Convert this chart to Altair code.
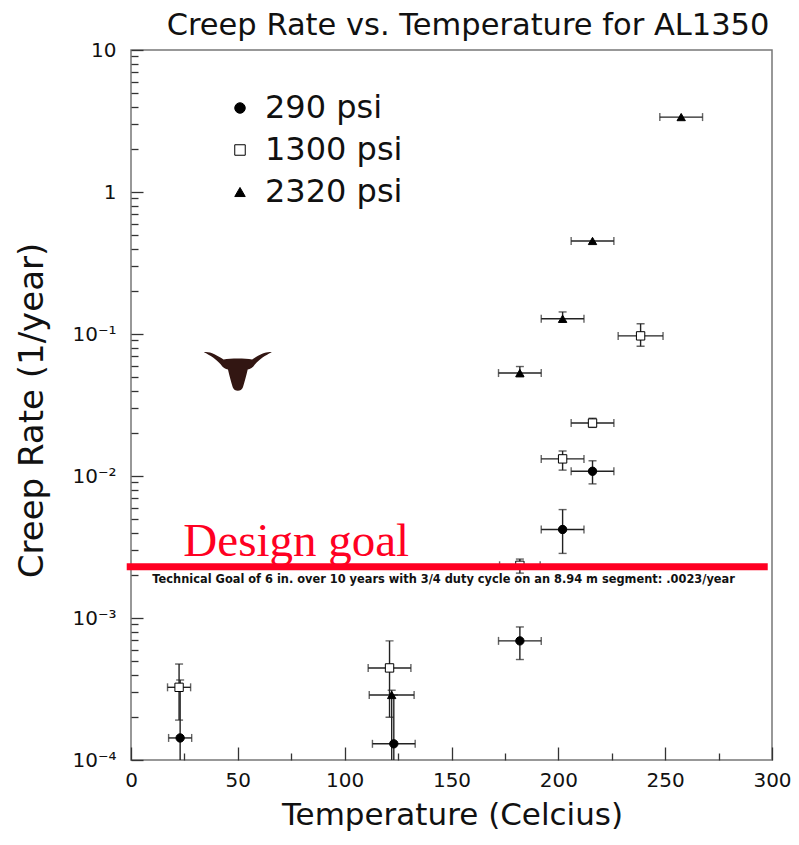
import altair as alt
import pandas as pd
import numpy as np

# ---------------- data ----------------
series_names = ["290 psi", "1300 psi", "2320 psi"]

t290 = [23, 123, 182, 202, 216]
r290 = [1.43e-4, 1.30e-4, 6.9e-4, 4.2e-3, 1.08e-2]
dt290 = [5.4, 10, 10, 10, 10]
lo290 = [6e-5, 6e-5, 5.1e-4, 2.85e-3, 8.8e-3]
hi290 = [3.66e-4, 2.87e-4, 8.65e-4, 5.8e-3, 1.28e-2]

t1300 = [22.5, 121, 182, 202, 216, 238.5]
r1300 = [3.25e-4, 4.45e-4, 2.35e-3, 1.32e-2, 2.36e-2, 0.097]
dt1300 = [5.4, 10, 9.5, 10, 10, 10.5]
lo1300 = [1.91e-4, 2.0e-4, 2.07e-3, 1.1e-2, 2.2e-2, 0.082]
hi1300 = [4.74e-4, 6.9e-4, 2.6e-3, 1.5e-2, 2.55e-2, 0.118]

t2320 = [122, 182, 202, 216, 257.5]
r2320 = [2.87e-4, 0.0531, 0.128, 0.452, 3.37]
dt2320 = [10.5, 10, 10, 10, 10]
lo2320 = [6e-5, 0.05, 0.121, np.nan, np.nan]
hi2320 = [3.1e-4, 0.059, 0.143, np.nan, np.nan]

title_text = "Creep Rate vs. Temperature for AL1350"
goal_rate = 0.0023
goal_x = [-2, 298]
goal_label = "Design goal"
goal_label_pos = (24.5, 2.73e-3)
tech_text = ("Technical Goal of 6 in. over 10 years with 3/4 duty cycle "
             "on an 8.94 m segment: .0023/year")
tech_pos = (10, 1.85e-3)
logo_pos = (50, 0.054)

x_major = [0, 50, 100, 150, 200, 250, 300]
x_minor = [25, 75, 125, 175, 225, 275]
y_major = [1e-4, 1e-3, 1e-2, 1e-1, 1, 10]
y_minor = [m * 10.0 ** e for e in range(-4, 1) for m in range(2, 10)]

# ---------------- tables ----------------
rows = []
for name, T, R, D, L, H in [
    (series_names[0], t290, r290, dt290, lo290, hi290),
    (series_names[1], t1300, r1300, dt1300, lo1300, hi1300),
    (series_names[2], t2320, r2320, dt2320, lo2320, hi2320),
]:
    for t, r, d, l, h in zip(T, R, D, L, H):
        rows.append(dict(series=name, temp=t, rate=r, xlo=t - d, xhi=t + d,
                         ylo=l, yhi=h))
df = pd.DataFrame(rows)
dfy = df.dropna(subset=["ylo"])

xcaps = pd.concat([df[["temp", "rate"]].assign(xc=df["xlo"]),
                   df[["temp", "rate"]].assign(xc=df["xhi"])])
ycaps = pd.concat([dfy[["temp"]].assign(yc=dfy["ylo"]),
                   dfy[["temp"]].assign(yc=dfy["yhi"])])

goal_df = pd.DataFrame({"x0": [goal_x[0]], "x1": [goal_x[1]], "rate": [goal_rate]})
gl_df = pd.DataFrame({"x": [goal_label_pos[0]], "y": [goal_label_pos[1]], "t": [goal_label]})
tech_df = pd.DataFrame({"x": [tech_pos[0]], "y": [tech_pos[1]], "t": [tech_text]})
logo_df = pd.DataFrame({"x": [logo_pos[0]], "y": [logo_pos[1]]})
title_df = pd.DataFrame({"t": [title_text]})

FONT = "DejaVu Sans"
xs = alt.Scale(domain=[0, 300], nice=False, zero=False)
ys = alt.Scale(type="log", domain=[1e-4, 10], nice=False)

label_expr = ("datum.value >= 10 ? '10\u2007' : datum.value >= 1 ? '1\u2007' : "
              "round(log(datum.value)/LN10) == -1 ? '10\u207b\u00b9' : "
              "round(log(datum.value)/LN10) == -2 ? '10\u207b\u00b2' : "
              "round(log(datum.value)/LN10) == -3 ? '10\u207b\u00b3' : '10\u207b\u2074'")

x_axis_major = alt.Axis(orient="bottom", values=x_major, offset=-13, tickSize=13,
                        domain=False, grid=False, tickColor="#333", tickWidth=1.3,
                        labelFont=FONT, labelFontSize=20, labelColor="#111",
                        labelPadding=10, labelFlush=False, format="d",
                        title="Temperature (Celcius)", titleFont=FONT,
                        titleFontSize=31, titleFontWeight="normal", titleColor="#111",
                        titleX=321, titleY=68, titleBaseline="middle",
                        titleAlign="center")
x_axis_minor = alt.Axis(orient="bottom", values=x_minor, offset=-7, tickSize=7,
                        domain=False, grid=False, labels=False, title=None,
                        tickColor="#333", tickWidth=1.3)
y_axis_major = alt.Axis(orient="left", values=y_major, offset=-12, tickSize=12,
                        domain=False, grid=False, tickColor="#333", tickWidth=1.3,
                        labelFont=FONT, labelFontSize=20, labelColor="#111",
                        labelPadding=15, labelFlush=False, labelExpr=label_expr,
                        title="Creep Rate (1/year)", titleFont=FONT,
                        titleFontSize=34, titleFontWeight="normal", titleColor="#111",
                        titleAngle=270, titleX=-111, titleY=360,
                        titleBaseline="middle", titleAlign="center")
y_axis_minor = alt.Axis(orient="left", values=y_minor, offset=-7, tickSize=7,
                        domain=False, grid=False, labels=False, title=None,
                        tickColor="#333", tickWidth=1.3)

ERR = "#222"

xerr = alt.Chart(df).mark_rule(color=ERR, strokeWidth=1.4).encode(
    x=alt.X("xlo:Q", scale=xs, axis=x_axis_minor),
    x2="xhi:Q",
    y=alt.Y("rate:Q", scale=ys, axis=y_axis_minor),
)
yerr = alt.Chart(dfy).mark_rule(color=ERR, strokeWidth=1.4, clip=True).encode(
    x=alt.X("temp:Q", scale=xs, axis=None),
    y=alt.Y("ylo:Q", scale=ys, axis=None),
    y2="yhi:Q",
)
xcap = alt.Chart(xcaps).mark_tick(color=ERR, thickness=1.4, size=8,
                                  orient="vertical").encode(
    x=alt.X("xc:Q", scale=xs, axis=None),
    y=alt.Y("rate:Q", scale=ys, axis=None),
)
ycap = alt.Chart(ycaps).mark_tick(color=ERR, thickness=1.4, size=8,
                                  orient="horizontal", clip=True).encode(
    x=alt.X("temp:Q", scale=xs, axis=None),
    y=alt.Y("yc:Q", scale=ys, axis=None),
)

legend = alt.Legend(orient="none", legendX=93, legendY=42, title=None,
                    labelFont=FONT, labelFontSize=32, labelColor="#111",
                    symbolSize=110, rowPadding=10, labelOffset=9, padding=0,
                    symbolStrokeWidth=1)
points = alt.Chart(df).mark_point(filled=True, strokeWidth=1,
                                  opacity=1, size=70).encode(
    x=alt.X("temp:Q", scale=xs, axis=x_axis_major),
    y=alt.Y("rate:Q", scale=ys, axis=y_axis_major),
    shape=alt.Shape("series:N", scale=alt.Scale(domain=series_names,
                    range=["circle", "square", "triangle-up"]), legend=legend),
    fill=alt.Fill("series:N", scale=alt.Scale(domain=series_names,
                  range=["black", "white", "black"]), legend=legend),
    stroke=alt.Stroke("series:N", scale=alt.Scale(domain=series_names,
                      range=["black", "black", "black"]), legend=legend),
)

goal = alt.Chart(goal_df).mark_rule(color="#ff0022", strokeWidth=7).encode(
    x=alt.X("x0:Q", scale=xs, axis=None),
    x2="x1:Q",
    y=alt.Y("rate:Q", scale=ys, axis=None),
)
goal_text = alt.Chart(gl_df).mark_text(font="Liberation Serif", fontSize=47,
                                       color="#ff0022", align="left",
                                       baseline="alphabetic").encode(
    x=alt.X("x:Q", scale=xs, axis=None),
    y=alt.Y("y:Q", scale=ys, axis=None),
    text="t:N",
)
tech = alt.Chart(tech_df).mark_text(font=FONT, fontSize=11.4, fontWeight="bold",
                                    color="#111", align="left",
                                    baseline="middle").encode(
    x=alt.X("x:Q", scale=xs, axis=None),
    y=alt.Y("y:Q", scale=ys, axis=None),
    text="t:N",
)
title = alt.Chart(title_df).mark_text(font=FONT, fontSize=30.5, color="#111",
                                      align="center", baseline="alphabetic").encode(
    x=alt.value(337), y=alt.value(-15), text="t:N",
)

LONGHORN = ("M -1 -0.58 C -0.85 -0.62 -0.62 -0.5 -0.42 -0.37 "
            "C -0.2 -0.41 0.2 -0.41 0.42 -0.37 "
            "C 0.62 -0.5 0.85 -0.62 1 -0.58 "
            "C 0.82 -0.5 0.62 -0.36 0.5 -0.22 "
            "C 0.45 -0.13 0.36 -0.09 0.29 -0.07 "
            "C 0.25 0.1 0.2 0.3 0.15 0.45 "
            "C 0.1 0.59 -0.1 0.59 -0.15 0.45 "
            "C -0.2 0.3 -0.25 0.1 -0.29 -0.07 "
            "C -0.36 -0.09 -0.45 -0.13 -0.5 -0.22 "
            "C -0.62 -0.36 -0.82 -0.5 -1 -0.58 Z")
logo = alt.Chart(logo_df).mark_point(shape=LONGHORN, size=4624, filled=True,
                                     color="#321612", opacity=1,
                                     strokeWidth=0).encode(
    x=alt.X("x:Q", scale=xs, axis=None),
    y=alt.Y("y:Q", scale=ys, axis=None),
)

chart = alt.layer(xerr, yerr, xcap, ycap, points, logo, goal, goal_text, tech,
                  title).resolve_axis(
    x="independent", y="independent"
).properties(
    width=641, height=710,
    autosize=alt.AutoSizeParams(type="none"),
    padding={"left": 123, "top": 42, "right": 19, "bottom": 77},
).configure_view(stroke="#777", strokeWidth=1.5)

chart.save("out.html", embed_options={"renderer": "svg", "actions": False})
